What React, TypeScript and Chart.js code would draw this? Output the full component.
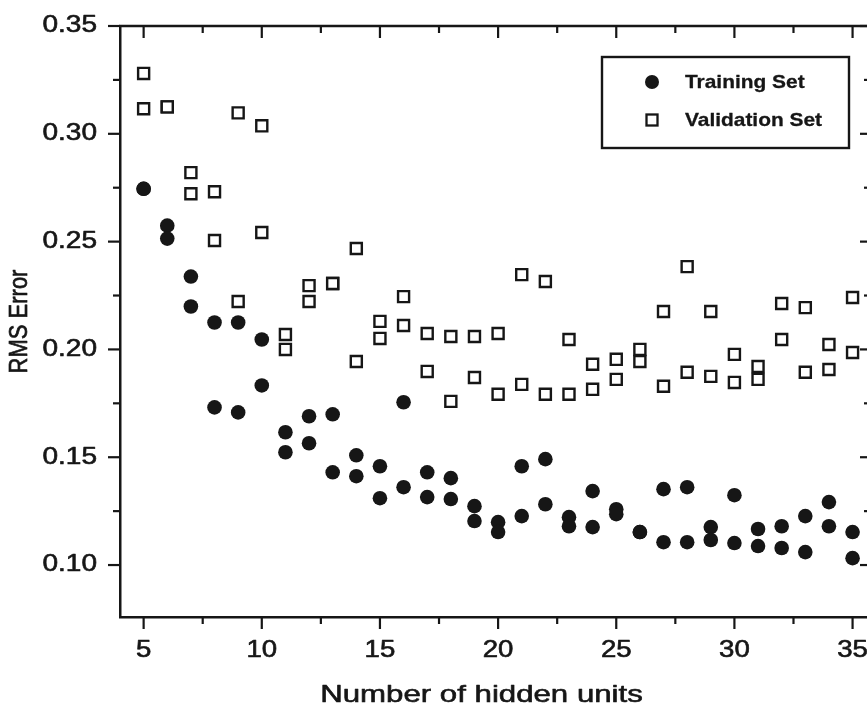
import React, { useEffect, useRef } from 'react';
import { Chart, registerables } from 'chart.js';

Chart.register(...registerables);

const hiddenUnits = [5, 6, 7, 8, 9, 10, 11, 12, 13, 14, 15, 16, 17, 18, 19, 20, 21, 22, 23, 24, 25, 26, 27, 28, 29, 30, 31, 32, 33, 34, 35];

const trainingA = [0.2745, 0.2574, 0.2338, 0.2125, 0.2125, 0.2046, 0.1616, 0.169, 0.1699, 0.1509, 0.1458, 0.1755, 0.143, 0.1403, 0.1273, 0.1199, 0.1458, 0.1491, 0.1222, 0.1343, 0.1259, 0.1153, 0.1352, 0.1361, 0.1176, 0.1324, 0.1167, 0.118, 0.1227, 0.1292, 0.1153];
const trainingB = [0.2745, 0.2514, 0.2199, 0.1731, 0.1708, 0.1833, 0.1523, 0.1565, 0.143, 0.1412, 0.131, 0.1361, 0.1315, 0.1306, 0.1204, 0.1153, 0.1227, 0.1282, 0.118, 0.1176, 0.1236, 0.1153, 0.1106, 0.1106, 0.1116, 0.1102, 0.1088, 0.1079, 0.106, 0.118, 0.1032];

const validationA = [0.328, 0.3125, 0.282, 0.2731, 0.3097, 0.3037, 0.2069, 0.2296, 0.2306, 0.2468, 0.213, 0.2245, 0.2074, 0.206, 0.206, 0.2074, 0.2347, 0.2315, 0.2046, 0.1931, 0.1954, 0.2, 0.2176, 0.2384, 0.2176, 0.1977, 0.1921, 0.2213, 0.2194, 0.2023, 0.2241];
const validationB = [0.3116, 0.3125, 0.2722, 0.2505, 0.2222, 0.2542, 0.2, 0.2222, 0.2306, 0.1944, 0.2051, 0.2111, 0.1898, 0.1759, 0.187, 0.1792, 0.1838, 0.1792, 0.1792, 0.1815, 0.1861, 0.1944, 0.1829, 0.1894, 0.1875, 0.1847, 0.1861, 0.2046, 0.1894, 0.1907, 0.1986];

const xMajorTicks = [5, 10, 15, 20, 25, 30, 35];
const xMinorTicks = [7.5, 12.5, 17.5, 22.5, 27.5, 32.5];
const yMajorTicks = [0.1, 0.15, 0.2, 0.25, 0.3, 0.35];
const yMinorTicks = [0.125, 0.175, 0.225, 0.275, 0.325];

const seriesNames = ['Training Set', 'Validation Set'];
const xTitle = 'Number of hidden units';
const yTitle = 'RMS Error';

const INK = '#161616';
const FONT = 'Arial, "Liberation Sans", Helvetica, sans-serif';

type TextOpts = { sx: number; sy: number; dx: number; dy: number; stroke: number };

function drawWideText(c: any, text: string, x: number, y: number, o: TextOpts, fill: any) {
  c.save();
  c.translate(x, y);
  c.scale(o.sx, o.sy);
  fill.call(c, text, 0, 0);
  if (o.stroke > 0) {
    c.lineWidth = o.stroke;
    c.strokeStyle = c.fillStyle;
    c.lineJoin = 'round';
    c.strokeText(text, 0, 0);
  }
  c.restore();
}

function patchText(scale: any, method: string, o: TextOpts) {
  const key = '__patched_' + method;
  if (scale[key]) return;
  const orig = scale[method];
  scale[method] = function (...args: any[]) {
    const c = this.ctx;
    c.save();
    c.translate(o.dx, o.dy);
    const protoFill = CanvasRenderingContext2D.prototype.fillText;
    c.fillText = function (text: string, x: number, y: number) {
      drawWideText(c, text, x, y, o, protoFill);
    };
    try {
      orig.apply(this, args);
    } finally {
      delete c.fillText;
      c.restore();
    }
  };
  scale[key] = true;
}

const framePlugin = {
  id: 'frameTicks',
  beforeDraw(chart: any) {
    const { x, y } = chart.scales;
    patchText(x, 'drawLabels', { sx: 1.2, sy: 1, dx: 0, dy: 0, stroke: 0.6 });
    patchText(y, 'drawLabels', { sx: 1.22, sy: 1, dx: -23, dy: 0, stroke: 0.6 });
    patchText(x, 'drawTitle', { sx: 1.3, sy: 1, dx: -14, dy: 0, stroke: 0.6 });
    patchText(y, 'drawTitle', { sx: 1, sy: 1.2, dx: 0, dy: 0, stroke: 0.6 });
  },
  afterDraw(chart: any) {
    const { ctx, chartArea: ca, scales } = chart;
    const x = scales.x;
    const y = scales.y;
    ctx.save();
    ctx.strokeStyle = INK;
    ctx.lineWidth = 2.5;
    ctx.lineCap = 'butt';
    ctx.beginPath();
    ctx.moveTo(ca.left - 1, ca.top);
    ctx.lineTo(ca.right, ca.top);
    ctx.lineTo(ca.right, ca.bottom);
    ctx.stroke();

    const line = (x1: number, y1: number, x2: number, y2: number) => {
      ctx.beginPath();
      ctx.moveTo(x1, y1);
      ctx.lineTo(x2, y2);
      ctx.stroke();
    };
    ctx.lineWidth = 2.2;
    xMajorTicks.forEach((v) => {
      const px = x.getPixelForValue(v);
      line(px, ca.bottom, px, ca.bottom + 12);
      line(px, ca.top, px, ca.top + 12);
    });
    xMinorTicks.forEach((v) => {
      const px = x.getPixelForValue(v);
      line(px, ca.bottom, px, ca.bottom + 7);
      line(px, ca.top, px, ca.top + 7);
    });
    yMajorTicks.forEach((v) => {
      const py = y.getPixelForValue(v);
      line(ca.left - 12, py, ca.left, py);
      line(ca.right, py, ca.right - 11, py);
    });
    yMinorTicks.forEach((v) => {
      const py = y.getPixelForValue(v);
      line(ca.left - 7, py, ca.left, py);
      line(ca.right, py, ca.right - 7, py);
    });

    // legend box
    const boxRight = ca.right - 22;
    const boxLeft = boxRight - 247;
    const boxTop = ca.top + 31;
    const boxBottom = boxTop + 91;
    ctx.lineWidth = 2.4;
    ctx.strokeRect(boxLeft, boxTop, boxRight - boxLeft, boxBottom - boxTop);

    const datasets = chart.data.datasets;
    const rows = [boxTop + 25, boxTop + 63];
    const protoFill = CanvasRenderingContext2D.prototype.fillText;
    datasets.forEach((ds: any, i: number) => {
      const mx = boxLeft + 50;
      const my = rows[i];
      if (ds.pointStyle === 'circle') {
        ctx.fillStyle = INK;
        ctx.beginPath();
        ctx.arc(mx, my, 7, 0, Math.PI * 2);
        ctx.fill();
      } else {
        ctx.lineWidth = 2.3;
        ctx.fillStyle = '#fff';
        ctx.fillRect(mx - 5.5, my - 5.5, 11, 11);
        ctx.strokeRect(mx - 5.5, my - 5.5, 11, 11);
      }
      ctx.fillStyle = INK;
      ctx.font = 'bold 19px ' + FONT;
      ctx.textAlign = 'left';
      ctx.textBaseline = 'middle';
      drawWideText(ctx, ds.label, boxLeft + 83, my + 1, { sx: 1.1, sy: 1, dx: 0, dy: 0, stroke: 0.3 }, protoFill);
    });
    ctx.restore();
  },
};

export default function App() {
  const ref = useRef<HTMLCanvasElement>(null);

  useEffect(() => {
    if (!ref.current) return;
    const training = hiddenUnits.flatMap((u, i) => [
      { x: u, y: trainingA[i] },
      { x: u, y: trainingB[i] },
    ]);
    const validation = hiddenUnits.flatMap((u, i) => [
      { x: u, y: validationA[i] },
      { x: u, y: validationB[i] },
    ]);

    const chart = new Chart(ref.current, {
      type: 'scatter',
      data: {
        datasets: [
          {
            label: seriesNames[0],
            data: training,
            pointStyle: 'circle',
            pointRadius: 7.3,
            pointHoverRadius: 7.3,
            backgroundColor: INK,
            borderColor: INK,
            borderWidth: 0,
          },
          {
            label: seriesNames[1],
            data: validation,
            pointStyle: 'rect',
            pointRadius: 7.8,
            pointHoverRadius: 7.8,
            backgroundColor: '#ffffff',
            borderColor: INK,
            borderWidth: 2.4,
          },
        ],
      },
      options: {
        animation: false,
        responsive: false,
        devicePixelRatio: 1,
        layout: { padding: { top: 26, right: 29, bottom: 0, left: 0 } },
        plugins: {
          legend: { display: false },
          tooltip: { enabled: false },
        },
        scales: {
          x: {
            type: 'linear',
            position: 'bottom',
            min: 4,
            max: 35.78,
            afterBuildTicks: (scale: any) => {
              scale.ticks = xMajorTicks.map((v) => ({ value: v }));
            },
            afterFit: (scale: any) => {
              scale.height = 96;
            },
            grid: { display: false, drawTicks: false },
            border: { display: true, color: INK, width: 2.5 },
            ticks: {
              color: INK,
              padding: 20,
              font: { family: FONT, size: 23 },
              callback: (v: any) => String(v),
            },
            title: {
              display: true,
              text: xTitle,
              color: INK,
              font: { family: FONT, size: 24 },
              padding: { top: 0, bottom: 3 },
            },
          },
          y: {
            type: 'linear',
            position: 'left',
            min: 0.0759,
            max: 0.35,
            afterBuildTicks: (scale: any) => {
              scale.ticks = yMajorTicks.map((v) => ({ value: v }));
            },
            afterFit: (scale: any) => {
              scale.width = 120;
            },
            grid: { display: false, drawTicks: false },
            border: { display: true, color: INK, width: 2.5 },
            ticks: {
              color: INK,
              padding: 0,
              font: { family: FONT, size: 23 },
              callback: (v: any) => Number(v).toFixed(2),
            },
            title: {
              display: true,
              text: yTitle,
              color: INK,
              font: { family: FONT, size: 22 },
              padding: { top: 7, bottom: 0 },
            },
          },
        },
      },
      plugins: [framePlugin],
    });
    return () => chart.destroy();
  }, []);

  return (
    <div
      style={{
        position: 'fixed',
        left: 0,
        top: 0,
        width: 867,
        height: 713,
        overflow: 'hidden',
        background: '#fff',
      }}
    >
      <canvas ref={ref} width={900} height={713} style={{ display: 'block', width: 900, height: 713 }} />
    </div>
  );
}
